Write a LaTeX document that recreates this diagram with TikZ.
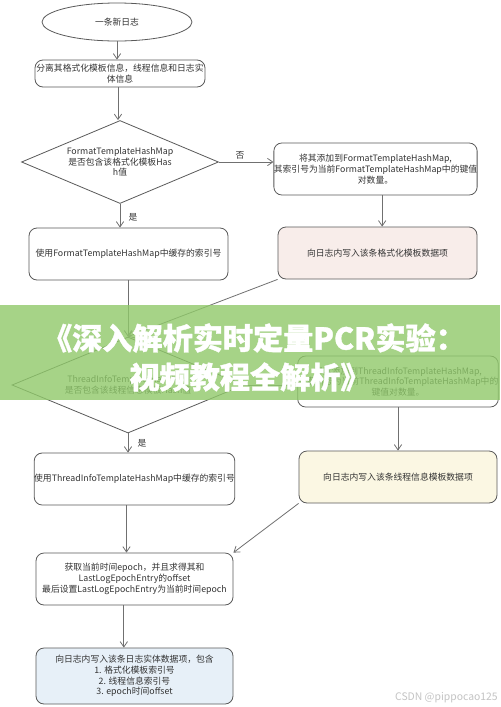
\documentclass[tikz,border=0pt]{standalone}
\usepackage{fontspec}
\setmainfont{Noto Sans CJK SC}
\newfontfamily\titlefont{Noto Sans CJK SC}[FakeBold=1.2]
\usetikzlibrary{shapes.geometric,arrows.meta,calc}
\definecolor{linec}{HTML}{707070}
\definecolor{borderc}{HTML}{5A5A5A}
\definecolor{textc}{HTML}{333333}
\definecolor{pinkf}{HTML}{F8EDEA}
\definecolor{yellowf}{HTML}{FBF7E3}
\definecolor{bluef}{HTML}{E7F0F8}
\definecolor{bannerg}{RGB}{144,201,106}
\definecolor{wmc}{HTML}{C4C4C4}
\begin{document}
\begin{tikzpicture}[x=0.75pt,y=-0.75pt,
  every node/.style={text=textc, font=\fontsize{6.6pt}{8pt}\selectfont},
  box/.style={draw=borderc, line width=0.6pt, rounded corners=6pt, align=center, inner sep=0pt, fill=white},
  decide/.style={draw=borderc, line width=0.6pt, diamond, aspect=2.4, align=center, inner sep=0pt, fill=white},
  startnode/.style={draw=borderc, line width=0.6pt, ellipse, inner sep=0pt, fill=white},
  conn/.style={draw=linec, line width=0.6pt, -{Straight Barb[length=4pt,width=5.5pt]}},
  lbl/.style={inner sep=0pt},
  bannertext/.style={text=white, font=\titlefont\bfseries\fontsize{22.6pt}{26pt}\selectfont, inner sep=0pt},
]
\fill[white] (0,0) rectangle (500,707);
\path[use as bounding box] (0,0) rectangle (500,707);

% nodes
\node[startnode, minimum width=112.5pt, minimum height=28.5pt] (start) at (117,22) {一条新日志};
\node[box, minimum width=127.5pt, minimum height=20.25pt] (sep) at (120,73.5) {分离其格式化模板信息，线程信息和日志实\\体信息};
\node[decide, minimum width=147.75pt, minimum height=62.25pt] (d1) at (120,162) {FormatTemplateHashMap\\是否包含该格式化模板Has\\h值};
\node[box, minimum width=147.75pt, minimum height=39pt] (r1) at (375.5,169) {将其添加到FormatTemplateHashMap,\\其索引号为当前FormatTemplateHashMap中的键值\\对数量。};
\node[box, fill=pinkf, minimum width=149.25pt, minimum height=39pt] (r2) at (377.5,253) {向日志内写入该条格式化模板数据项};
\node[box, minimum width=149.25pt, minimum height=39pt] (l3) at (128.5,254) {使用FormatTemplateHashMap中缓存的索引号};
\node[decide, minimum width=174pt, minimum height=72pt] (d2) at (128,385) {ThreadInfoTemplateHashMap\\是否包含该线程信息模板Hash值};
\node[box, minimum width=148.5pt, minimum height=38.25pt] (r3) at (398,381.5) {将其添加到ThreadInfoTemplateHashMap,\\其索引号为当前ThreadInfoTemplateHashMap中的\\键值对数量。};
\node[box, minimum width=147.75pt, minimum height=39pt] (l4) at (134.5,479) {使用ThreadInfoTemplateHashMap中缓存的索引号};
\node[box, fill=yellowf, minimum width=148.5pt, minimum height=39pt] (r4) at (398,477) {向日志内写入该条线程信息模板数据项};
\node[box, minimum width=147.75pt, minimum height=39pt] (l5) at (134.5,579) {获取当前时间epoch，并且求得其和\\LastLogEpochEntry的offset\\最后设置LastLogEpochEntry为当前时间epoch};
\node[box, fill=bluef, minimum width=147.75pt, minimum height=42pt] (l6) at (134.5,676) {向日志内写入该条日志实体数据项，包含\\1. 格式化模板索引号\\2. 线程信息索引号\\3. epoch时间offset};

% connectors
\draw[conn] (start.south) -- (start.south |- sep.north);
\draw[conn] ([xshift=-1.5pt]sep.south) -- ([xshift=-1.5pt]sep.south |- d1.north);
\draw[conn] (d1.east) -- (d1.east -| r1.west);
\node[lbl] (no1) at (240,155) {否};
\draw[conn] ([xshift=5pt]r1.south) -- ([xshift=5pt]r1.south |- r2.north);
\draw[conn] (d1.south) -- (d1.south |- l3.north);
\node[lbl] (yes1) at (133,217) {是};
\draw[conn] (l3.south -| d2.north) -- (d2.north);
\draw[conn] (r2.south west) -- (d2.north);
\draw[conn] (d2.east) -- (d2.east -| r3.west);
\draw[conn] (r3.south) -- (r3.south |- r4.north);
\draw[conn] (d2.south) -- (d2.south |- l4.north);
\node[lbl] (yes2) at (142,443) {是};
\draw[conn] ([xshift=-6pt]l4.south) -- ([xshift=-6pt]l5.north);
\draw[conn] ([xshift=-8pt]l5.south) -- ([xshift=-8pt]l6.north);
\draw[conn] (r4.south west) -- (l5.north east);

% banner
\fill[bannerg, opacity=0.8] (0,305) rectangle (500,400);
\node[bannertext] (title1) at (254,338) {《深入解析实时定量PCR实验：};
\node[bannertext] (title2) at (250,377) {视频教程全解析》};

% watermark
\node[lbl, text=wmc, font=\fontsize{7.8pt}{9pt}\selectfont, anchor=east] (wm) at (498,698) {CSDN @pippocao125};
\end{tikzpicture}
\end{document}
